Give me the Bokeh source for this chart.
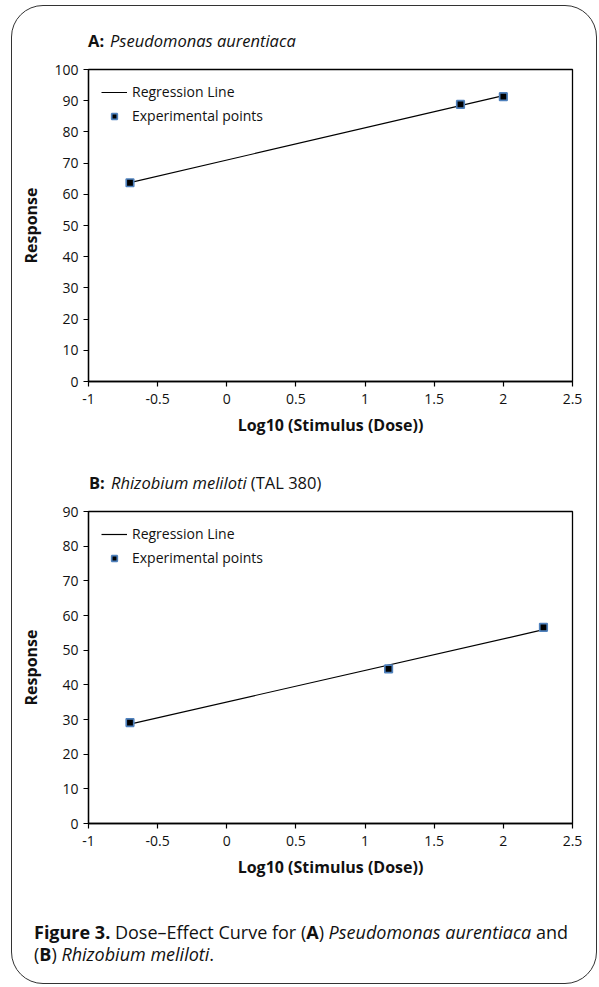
import numpy as np
from bokeh.plotting import figure
from bokeh.layouts import column
from bokeh.models import Div, FixedTicker, Legend, LegendItem
from bokeh.embed import file_html
from bokeh.resources import INLINE

FONT = "Open Sans"

# ---------------- data ----------------
panel_letters = ["A:", "B:"]
panel_species = ["Pseudomonas aurentiaca", "Rhizobium meliloti"]
panel_strain = ["", "(TAL 380)"]

log_dose_A = [-0.70, 1.69, 2.00]
response_A = [63.7, 88.8, 91.3]

log_dose_B = [-0.70, 1.17, 2.29]
response_B = [29.1, 44.6, 56.6]

x_ticks = [-1.0, -0.5, 0.0, 0.5, 1.0, 1.5, 2.0, 2.5]
x_tick_labels = ["-1", "-0.5", "0", "0.5", "1", "1.5", "2", "2.5"]
y_ticks_A = [0, 10, 20, 30, 40, 50, 60, 70, 80, 90, 100]
y_ticks_B = [0, 10, 20, 30, 40, 50, 60, 70, 80, 90]

x_title = "Log10 (Stimulus (Dose))"
y_title = "Response"
legend_labels = ["Regression Line", "Experimental points"]

caption_html = ('<b>Figure 3.</b> Dose–Effect Curve for (<b>A</b>) <i>Pseudomonas aurentiaca</i> and<br>'
                '(<b>B</b>) <i>Rhizobium meliloti</i>.')

INNER_W = 584


def title_div(letter, species, strain, height, top, left):
    extra = (" " + strain) if strain else ""
    html = ('<div style="margin:%dpx 0 0 %dpx; font-family:\'Open Sans\'; font-size:16.5px; '
            'line-height:20px; color:#111; white-space:nowrap;">'
            '<span style="display:inline-block; width:22px; font-weight:bold;">%s</span>'
            '<i>%s</i>%s</div>') % (top, left, letter, species, extra)
    return Div(text=html, width=INNER_W, height=height, margin=0)


def make_panel(xs, ys, y_ticks, height, top, bottom, ylab_standoff):
    y_max = y_ticks[-1]
    p = figure(width=INNER_W, height=height, x_range=(x_ticks[0], x_ticks[-1]), y_range=(0, y_max),
               output_backend="svg", toolbar_location=None, margin=0,
               min_border_left=76, min_border_right=24, min_border_top=top, min_border_bottom=bottom)
    p.border_fill_alpha = 0
    p.background_fill_color = "white"
    p.xgrid.visible = False
    p.ygrid.visible = False
    p.outline_line_color = "black"
    p.outline_line_width = 1.3
    p.outline_line_alpha = 1

    for ax in (p.xaxis[0], p.yaxis[0]):
        ax.axis_line_color = "black"
        ax.axis_line_width = 1.3
        ax.major_tick_line_color = "black"
        ax.major_tick_line_width = 1.2
        ax.major_tick_out = 5
        ax.major_tick_in = 0
        ax.minor_tick_line_color = None
        ax.major_label_text_font = FONT
        ax.major_label_text_font_size = "14px"
        ax.major_label_text_color = "#111111"
        ax.axis_label_text_font = FONT
        ax.axis_label_text_font_style = "bold"
        ax.axis_label_text_font_size = "16px"
        ax.axis_label_text_color = "#111111"

    p.xaxis.ticker = FixedTicker(ticks=x_ticks)
    p.xaxis.major_label_overrides = dict(zip(x_ticks, x_tick_labels))
    p.yaxis.ticker = FixedTicker(ticks=y_ticks)
    p.xaxis.axis_label = x_title
    p.yaxis.axis_label = y_title
    p.xaxis.major_label_standoff = 7
    p.yaxis.major_label_standoff = 5
    p.xaxis.axis_label_standoff = 7
    p.yaxis.axis_label_standoff = ylab_standoff

    slope, intercept = np.polyfit(xs, ys, 1)
    lx = [min(xs), max(xs)]
    ly = [slope * v + intercept for v in lx]
    r_line = p.line(lx, ly, line_color="black", line_width=1.2)
    r_pts = p.scatter(xs, ys, marker="square", size=7.5, fill_color="black",
                      line_color="#4f81bd", line_width=1.7)

    legend = Legend(items=[LegendItem(label=legend_labels[0], renderers=[r_line]),
                           LegendItem(label=legend_labels[1], renderers=[r_pts])],
                    location="top_left", margin=0, padding=13, spacing=5,
                    glyph_width=26, glyph_height=14, label_height=14, label_standoff=5,
                    background_fill_alpha=0, border_line_alpha=0,
                    label_text_font=FONT, label_text_font_size="14px", label_text_color="#111111")
    p.add_layout(legend)
    return p


tA = title_div(panel_letters[0], panel_species[0], panel_strain[0], height=50, top=25, left=76)
pA = make_panel(log_dose_A, response_A, y_ticks_A, height=398, top=13, bottom=73, ylab_standoff=9)
tB = title_div(panel_letters[1], panel_species[1], panel_strain[1], height=44, top=19, left=77)
pB = make_panel(log_dose_B, response_B, y_ticks_B, height=392, top=13, bottom=67, ylab_standoff=17)

caption = Div(text=('<div style="margin:31px 0 0 22px; font-family:\'Open Sans\'; font-size:18px; '
                    'line-height:22px; color:#111; white-space:nowrap;">' + caption_html + '</div>'),
              width=INNER_W, height=93, margin=0)

layout = column(tA, pA, tB, pB, caption, spacing=0, margin=(5, 0, 0, 11),
                styles={"border": "1.5px solid #333", "border-radius": "32px",
                        "overflow": "hidden", "background": "white"})

open("out.html", "w").write(file_html(layout, INLINE))
